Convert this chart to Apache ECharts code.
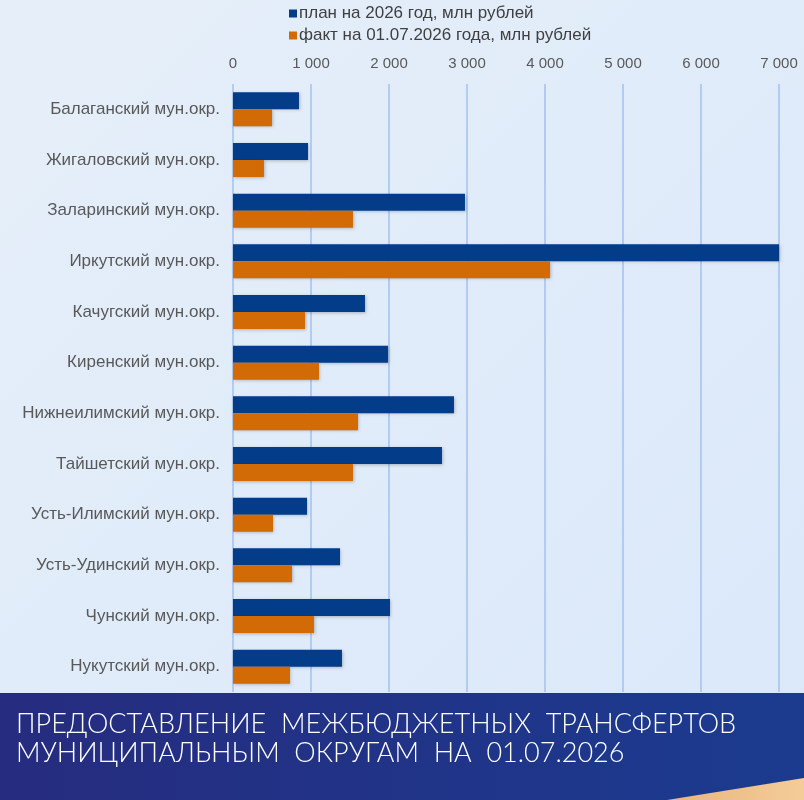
<!DOCTYPE html>
<html>
<head>
<meta charset="utf-8">
<script src="https://cdn.jsdelivr.net/npm/echarts@6/dist/echarts.min.js"></script>
<style>
  html, body { margin: 0; padding: 0; }
  #chartContainer { width: 804px; height: 800px; }
</style>
</head>
<body>
<div id="chartContainer"></div>
<script>
var categories = [
    'Балаганский мун.окр.',
    'Жигаловский мун.окр.',
    'Заларинский мун.окр.',
    'Иркутский мун.окр.',
    'Качугский мун.окр.',
    'Киренский мун.окр.',
    'Нижнеилимский мун.окр.',
    'Тайшетский мун.окр.',
    'Усть-Илимский мун.окр.',
    'Усть-Удинский мун.окр.',
    'Чунский мун.окр.',
    'Нукутский мун.окр.'
];
var planValues = [846, 962, 2974, 7000, 1692, 1987, 2833, 2679, 949, 1372, 2013, 1397];
var factValues = [500, 397, 1538, 4064, 923, 1103, 1603, 1538, 513, 756, 1038, 731];
var seriesNames = ['план на 2026 год, млн рублей', 'факт на 01.07.2026 года, млн рублей'];
var titleLines = ['ПРЕДОСТАВЛЕНИЕ  МЕЖБЮДЖЕТНЫХ  ТРАНСФЕРТОВ', 'МУНИЦИПАЛЬНЫМ  ОКРУГАМ  НА  01.07.2026'];

function SetTransfersChart() {
    var chartDom = document.getElementById('chartContainer');
    var myChart = echarts.init(chartDom, null, {
        renderer: 'canvas',
        useDirtyRect: false
    });

    var option;

    option = {
        backgroundColor: {
            type: 'linear', x: 0, y: 0, x2: 1, y2: 1,
            colorStops: [
                { offset: 0, color: '#e6eff9' },
                { offset: 1, color: '#dae8fa' }
            ]
        },
        textStyle: { fontFamily: 'Liberation Sans' },
        legend: {
            data: seriesNames,
            orient: 'vertical',
            left: 284,
            top: 0,
            itemWidth: 8,
            itemHeight: 8,
            itemGap: 5,
            icon: 'rect',
            textStyle: {
                color: '#404040',
                fontSize: 17,
                padding: [0, 0, 0, -3]
            }
        },
        grid: {
            left: 233,
            right: 25,
            top: 84,
            bottom: 108
        },
        xAxis: {
            type: 'value',
            position: 'top',
            min: 0,
            max: 7000,
            interval: 1000,
            axisLine: { show: false },
            axisTick: { show: false },
            axisLabel: {
                color: '#595959',
                fontSize: 15,
                margin: 13,
                formatter: function (v) {
                    return String(v).replace(/\B(?=(\d{3})+(?!\d))/g, ' ');
                }
            },
            splitLine: {
                show: true,
                lineStyle: { color: '#a3c1ee', width: 1.5 }
            }
        },
        yAxis: {
            type: 'category',
            data: categories,
            inverse: true,
            axisLine: { show: false },
            axisTick: { show: false },
            axisLabel: {
                color: '#595959',
                fontSize: 17,
                margin: 13
            }
        },
        series: [
            {
                name: seriesNames[0],
                type: 'bar',
                data: planValues,
                barWidth: 17,
                barGap: '0%',
                itemStyle: {
                    color: '#033d8a',
                    shadowBlur: 3,
                    shadowColor: 'rgba(0,0,0,0.25)',
                    shadowOffsetX: 1,
                    shadowOffsetY: 1
                }
            },
            {
                name: seriesNames[1],
                type: 'bar',
                data: factValues,
                barWidth: 17,
                barGap: '0%',
                itemStyle: {
                    color: '#d26a06',
                    shadowBlur: 3,
                    shadowColor: 'rgba(0,0,0,0.25)',
                    shadowOffsetX: 1,
                    shadowOffsetY: 1
                }
            }
        ],
        graphic: [
            {
                type: 'rect',
                left: 0,
                top: 693,
                shape: { width: 804, height: 107 },
                style: {
                    fill: {
                        type: 'linear', x: 0, y: 0, x2: 1, y2: 0,
                        colorStops: [
                            { offset: 0, color: '#262c7f' },
                            { offset: 1, color: '#1b3b8f' }
                        ]
                    }
                },
                silent: true
            },
            {
                type: 'polygon',
                shape: { points: [[667, 800], [804, 778], [804, 800]] },
                style: {
                    fill: {
                        type: 'linear', x: 0, y: 0, x2: 1, y2: 0,
                        colorStops: [
                            { offset: 0, color: '#e8b57e' },
                            { offset: 1, color: '#f4cc98' }
                        ]
                    }
                },
                silent: true
            },
            {
                type: 'text',
                x: 16,
                y: 709,
                scaleX: 0.965,
                style: {
                    text: titleLines[0] + '\n' + titleLines[1],
                    fill: '#ffffff',
                    font: '300 28px Lato',
                    lineHeight: 29
                },
                silent: true
            }
        ]
    };

    if (option && typeof option === 'object') {
        myChart.setOption(option);
    }

    window.addEventListener('resize', myChart.resize);
}

SetTransfersChart();
</script>
</body>
</html>
